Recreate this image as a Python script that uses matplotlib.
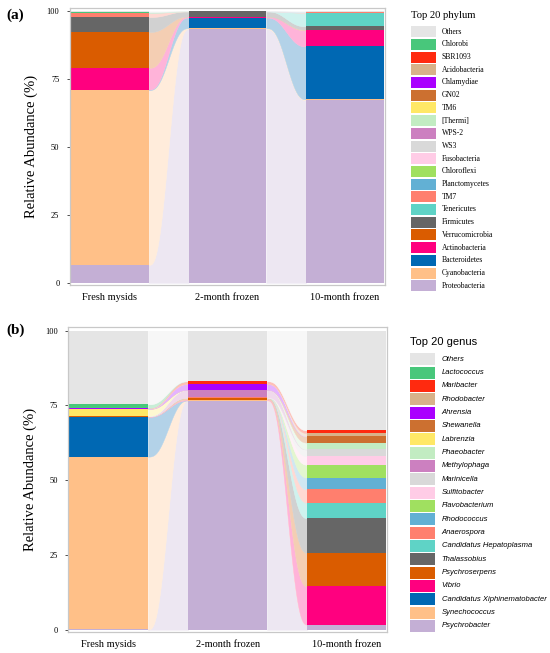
import numpy as np
import matplotlib.pyplot as plt
import matplotlib.colors as mcolors
from matplotlib.patches import Rectangle

samples = ["Fresh mysids", "2-month frozen", "10-month frozen"]

# phylum level, stacking order bottom -> top
phylum = ["Proteobacteria", "Cyanobacteria", "Bacteroidetes", "Actinobacteria",
          "Verrucomicrobia", "Firmicutes", "Tenericutes", "TM7", "Planctomycetes",
          "Chloroflexi", "Fusobacteria", "WS3", "WPS-2", "[Thermi]", "TM6", "GN02",
          "Chlamydiae", "Acidobacteria", "SBR1093", "Chlorobi", "Others"]
phylum_fresh = [6.6, 64.4, 0.2, 8.0, 13.2, 5.5, 0, 1.5, 0, 0, 0, 0,
                0, 0, 0, 0, 0, 0, 0, 0.4, 0.2]
phylum_2m = [93.4, 0.4, 3.9, 0.4, 0, 1.9, 0, 0, 0, 0, 0, 0,
             0, 0, 0, 0, 0, 0, 0, 0, 0]
phylum_10m = [67.3, 0.3, 19.5, 5.9, 0.3, 1.2, 5.0, 0.3, 0.1, 0, 0, 0,
              0, 0, 0, 0, 0, 0, 0, 0, 0.1]

# genus level, stacking order bottom -> top
genus = ["Psychrobacter", "Synechococcus", "Candidatus Xiphinematobacter", "Vibrio",
         "Psychroserpens", "Thalassobius", "Candidatus Hepatoplasma", "Anaerospora",
         "Rhodococcus", "Flavobacterium", "Sulfitobacter", "Marinicella",
         "Methylophaga", "Phaeobacter", "Labrenzia", "Shewanella", "Ahrensia",
         "Rhodobacter", "Maribacter", "Lactococcus", "Others"]
genus_fresh = [0.1, 57.8, 13.3, 0.1, 0.1, 0, 0, 0, 0, 0, 0, 0,
               0.1, 0.1, 2.2, 0.1, 0.1, 0.1, 0.1, 1.2, 24.6]
genus_2m = [76.6, 0.1, 0, 0.3, 0.5, 0.1, 0.05, 0.05, 0, 0, 0, 0,
            2.5, 0, 0, 0, 2.0, 0, 0.9, 0, 16.9]
genus_10m = [1.7, 0, 0, 12.8, 11.2, 11.6, 5.2, 4.4, 4.0, 4.3, 2.9, 2.2,
             0, 2.3, 0, 2.1, 0, 1.1, 0.9, 0, 33.3]

palette = ["#c4afd5", "#ffc088", "#0068b3", "#ff007f", "#da5c00", "#666666",
           "#5fd3c6", "#ff7f6e", "#62b0d4", "#a0e060", "#ffcce6", "#d9d9d9",
           "#cc80c0", "#c2ecc2", "#ffe866", "#cc7030", "#aa00ff", "#d8b28a",
           "#ff2a0f", "#48c77b", "#e5e5e5"]

W = 0.66
FW, FH = 550, 653


def smooth(t):
    return t ** 3 * (t * (6 * t - 15) + 10)


def light(c, a=0.3):
    rgb = np.array(mcolors.to_rgb(c))
    return tuple(a * rgb + (1 - a))


def alluvial(ax, table, colors):
    table = np.array(table, dtype=float)
    tops = np.cumsum(table, axis=1)
    bottoms = tops - table
    x = np.arange(table.shape[0])
    t = np.linspace(0, 1, 120)
    s = smooth(t)
    for i in range(len(x) - 1):
        xx = x[i] + W / 2 + t * (1 - W)
        for k in range(table.shape[1]):
            if table[i, k] == 0 and table[i + 1, k] == 0:
                continue
            lo = bottoms[i, k] + (bottoms[i + 1, k] - bottoms[i, k]) * s
            hi = tops[i, k] + (tops[i + 1, k] - tops[i, k]) * s
            fc = light(colors[k])
            ax.fill_between(xx, lo, hi, facecolor=fc, edgecolor=fc, lw=0.3)
    for k in range(table.shape[1]):
        ax.bar(x, table[:, k], bottom=bottoms[:, k], width=W,
               color=colors[k], linewidth=0)


def style(ax):
    ax.set_xlim(-W / 2 - 0.01, 2 + W / 2 + 0.01)
    ax.set_ylim(-0.8, 101.2)
    ax.set_yticks([0, 25, 50, 75, 100])
    ax.set_xticks(range(3))
    ax.set_xticklabels(samples, fontsize=7.5, family="Liberation Serif")
    for lab in ax.get_yticklabels():
        lab.set_fontsize(6)
        lab.set_family("Liberation Serif")
    ax.tick_params(axis="x", length=0, pad=6)
    ax.tick_params(axis="y", length=2.5, width=0.6, color="#333333", pad=5)
    for sp in ax.spines.values():
        sp.set_color("#c8c8c8")
        sp.set_linewidth(0.9)
    ax.set_ylabel("Relative Abundance (%)", fontsize=10.5,
                  family="Liberation Serif", labelpad=6)


def legend(fig, names, title, x0, ytitle, y0, step, ph, tfont, lfont):
    # x0, ytitle, y0 in pixels from top-left of the figure
    fig.text(x0 / FW, 1 - ytitle / FH, title, va="center", ha="left", **tfont)
    for j, k in enumerate(range(len(names) - 1, -1, -1)):
        yc = y0 + j * step
        fig.add_artist(Rectangle((x0 / FW, 1 - (yc + ph / 2) / FH), 24.5 / FW, ph / FH,
                                 transform=fig.transFigure, facecolor=palette[k],
                                 edgecolor="none"))
        fig.text(441.7 / FW, 1 - yc / FH, names[k], va="center", ha="left", **lfont)


fig = plt.figure(figsize=(5.5, 6.53), dpi=100)

ax1 = fig.add_axes([0.127, 0.5636, 0.573, 0.424])
alluvial(ax1, [phylum_fresh, phylum_2m, phylum_10m], palette)
style(ax1)

ax2 = fig.add_axes([0.124, 0.032, 0.580, 0.467])
alluvial(ax2, [genus_fresh, genus_2m, genus_10m], palette)
style(ax2)

fig.text(0.012, 0.976, "(a)", fontsize=11, fontweight="bold",
         family="Liberation Serif", va="center")
fig.text(0.012, 0.494, "(b)", fontsize=11, fontweight="bold",
         family="Liberation Serif", va="center")

legend(fig, phylum, "Top 20 phylum", 411, 15, 31.7, 12.7, 11,
       {"family": "Liberation Serif", "size": 7.7},
       {"family": "Liberation Serif", "size": 5.5})
legend(fig, genus, "Top 20 genus", 410, 341.7, 359.3, 13.33, 12,
       {"family": "Liberation Sans", "size": 8},
       {"family": "Liberation Sans", "size": 5.5, "style": "italic"})

fig.savefig("out.png", dpi=100)
